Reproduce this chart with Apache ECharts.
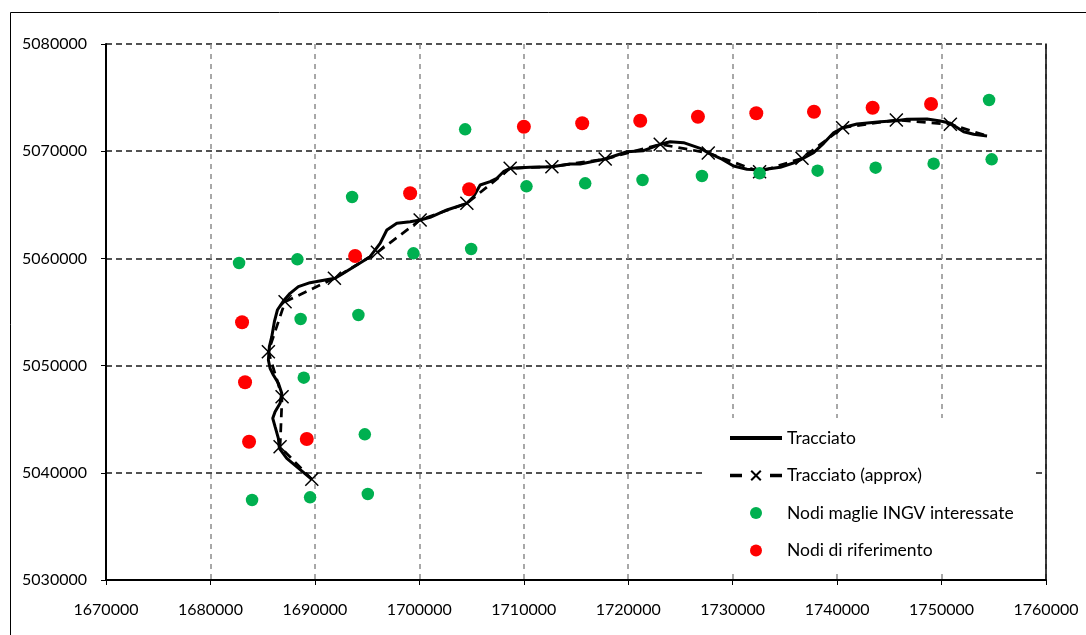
<!DOCTYPE html>
<html>
<head>
<meta charset="utf-8">
<script src="https://cdn.jsdelivr.net/npm/echarts@6/dist/echarts.min.js"></script>
<style>
html,body{margin:0;padding:0;background:#fff;}
#chart{width:1086px;height:635px;}
</style>
</head>
<body>
<div id="chart"></div>
<script>
// Tick labels
const xTickLabels = [1670000,1680000,1690000,1700000,1710000,1720000,1730000,1740000,1750000,1760000];
const yTickLabels = [5030000,5040000,5050000,5060000,5070000,5080000];

// Series names
const seriesNames = ['Tracciato','Tracciato (approx)','Nodi maglie INGV interessate','Nodi di riferimento'];

// Tracciato (solid line) - X values
const tracciatoX = [1689703,1687308,1686600,1686504,1686188,1685967,1686188,1686667,1686829,1686504,
  1686025,1685709,1685546,1685642,1685872,1686121,1686408,1686983,1687624,1688419,
  1689540,1690977,1691935,1692730,1694013,1695287,1696245,1696887,1697845,1699119,
  1700076,1701034,1702634,1704550,1705182,1705824,1706781,1707423,1708055,1708697,
  1710613,1712691,1714444,1715402,1717797,1719875,1721465,1723065,1724023,1725297,
  1726896,1727634,1728812,1730086,1731370,1732643,1734559,1736159,1737749,1738707,
  1739665,1740527,1741906,1744138,1745670,1746695,1748611,1749885,1750843,1752117,
  1753075,1754357];
// Tracciato (solid line) - Y values
const tracciatoY = [5039393,5041352,5042285,5043218,5044300,5045084,5045699,5046483,5047416,5048349,
  5049123,5049748,5050522,5051763,5052696,5054095,5055186,5056026,5056744,5057360,
  5057733,5057985,5058143,5058610,5059384,5060158,5061408,5062649,5063274,5063423,
  5063582,5063834,5064515,5065140,5065755,5066847,5067155,5067472,5068088,5068405,
  5068498,5068554,5068806,5068806,5069272,5069953,5070047,5070644,5070886,5070793,
  5070270,5069860,5069338,5068619,5068311,5068246,5068498,5069020,5069860,5070737,
  5071726,5072192,5072537,5072752,5072845,5072976,5073004,5072817,5072603,5071819,
  5071576,5071418];

// Tracciato (approx) - marker points
const approxX = [1689703,1686667,1686858,1685546,1687146,1691868,1695987,1700077,1704550,1708697,
  1712692,1717797,1723065,1727663,1732577,1736638,1740527,1745670,1750843,1754387];
const approxY = [5039394,5042435,5047099,5051297,5055961,5058144,5060569,5063582,5065140,5068405,
  5068554,5069272,5070644,5069832,5068088,5069338,5072192,5072910,5072509,5071418];

// Nodi maglie INGV interessate (green)
const ingvX = [1682740,1688324,1688633,1688937,1694167,1694780,1683985,1689540,1695067,1699435,
  1704962,1710259,1704387,1693563,1715881,1721370,1727060,1732577,1738132,1743688,
  1749243,1754799,1754550];
const ingvY = [5059571,5059916,5054347,5048871,5054720,5043591,5037463,5037715,5038022,5060476,
  5060877,5066726,5072043,5065728,5067006,5067313,5067687,5067938,5068181,5068461,
  5068834,5069244,5074776];

// Nodi di riferimento (red)
const refX = [1693851,1683027,1683314,1683697,1689224,1699119,1704770,1710010,1715594,1721149,
  1726676,1732261,1737785,1743400,1748994];
const refY = [5060224,5054039,5048442,5042901,5043153,5066073,5066446,5072285,5072603,5072845,
  5073218,5073535,5073685,5074058,5074403];

function zip(xs, ys){ return xs.map((x,i)=>[x, ys[i]]); }

const approxData = zip(approxX, approxY).map((p,i,arr)=> i===arr.length-1 ? {value:p, symbol:'none'} : p);

const FONT = 'Lato';
const chart = echarts.init(document.getElementById('chart'), null, {renderer:'canvas'});
const fmt = v => String(v);

chart.setOption({
  animation:false,
  backgroundColor:'#fff',
  graphic:[{
    type:'rect', left:8, top:10, silent:true,
    shape:{x:0,y:0,width:1200,height:700},
    style:{fill:'none', stroke:'#000', lineWidth:1}, z:-1
  }],
  grid:{left:106, top:44, right:40, bottom:55, containLabel:false},
  xAxis:{
    type:'value',
    min:xTickLabels[0], max:xTickLabels[xTickLabels.length-1],
    interval:xTickLabels[1]-xTickLabels[0],
    axisLine:{show:true, onZero:false, lineStyle:{color:'#000', width:2}},
    axisTick:{show:true, inside:false, length:5, lineStyle:{color:'#000', width:1}},
    axisLabel:{formatter:fmt, color:'#000', fontFamily:FONT, fontSize:16, margin:22},
    splitLine:{show:true, lineStyle:{color:'#8c8c8c', width:1.5, type:[5,5]}}
  },
  yAxis:[{
    type:'value',
    min:yTickLabels[0], max:yTickLabels[yTickLabels.length-1],
    interval:yTickLabels[1]-yTickLabels[0],
    axisLine:{show:true, onZero:false, lineStyle:{color:'#000', width:2}},
    axisTick:{show:true, inside:false, length:5, lineStyle:{color:'#000', width:1}},
    axisLabel:{formatter:fmt, color:'#000', fontFamily:FONT, fontSize:16, margin:19},
    splitLine:{show:true, lineStyle:{color:'#1a1a1a', width:1.5, type:[6,4]}}
  },{
    type:'value', position:'right',
    min:yTickLabels[0], max:yTickLabels[yTickLabels.length-1],
    interval:yTickLabels[1]-yTickLabels[0],
    axisLine:{show:true, onZero:false, lineStyle:{color:'#000', width:1.5}},
    axisTick:{show:false}, axisLabel:{show:false}, splitLine:{show:false}
  }],
  legend:{
    orient:'vertical', left:703, top:418,
    padding:[10,20,12,25], itemGap:17.5,
    itemWidth:52, itemHeight:12,
    backgroundColor:'#fff', selectedMode:false,
    textStyle:{fontFamily:FONT, fontSize:17.5, color:'#000', lineHeight:20},
    data:[
      {name:seriesNames[0], lineStyle:{width:4, color:'#000', type:'solid'}},
      {name:seriesNames[1], lineStyle:{width:3.5, color:'#000', type:[12,28]}},
      {name:seriesNames[2]},
      {name:seriesNames[3]}
    ]
  },
  series:[
    {
      name:seriesNames[0], type:'line', data:zip(tracciatoX, tracciatoY),
      symbol:'none', showSymbol:false, smooth:false, z:2,
      lineStyle:{color:'#000', width:3},
      itemStyle:{color:'transparent', opacity:0}
    },
    {
      name:seriesNames[1], type:'line', data:approxData,
      symbol:'path://M0,0L10,10M10,0L0,10', symbolSize:13, showSymbol:true, z:3,
      lineStyle:{color:'#000', width:2.75, type:[9,6]},
      itemStyle:{color:'none', borderColor:'#000', borderWidth:1.5}
    },
    {
      name:seriesNames[2], type:'scatter', data:zip(ingvX, ingvY),
      symbol:'circle', symbolSize:12.5, z:4,
      itemStyle:{color:'#00B050', opacity:1}
    },
    {
      name:seriesNames[3], type:'scatter', data:zip(refX, refY),
      symbol:'circle', symbolSize:14, z:5,
      itemStyle:{color:'#FF0000', opacity:1}
    }
  ]
});
</script>
</body>
</html>
